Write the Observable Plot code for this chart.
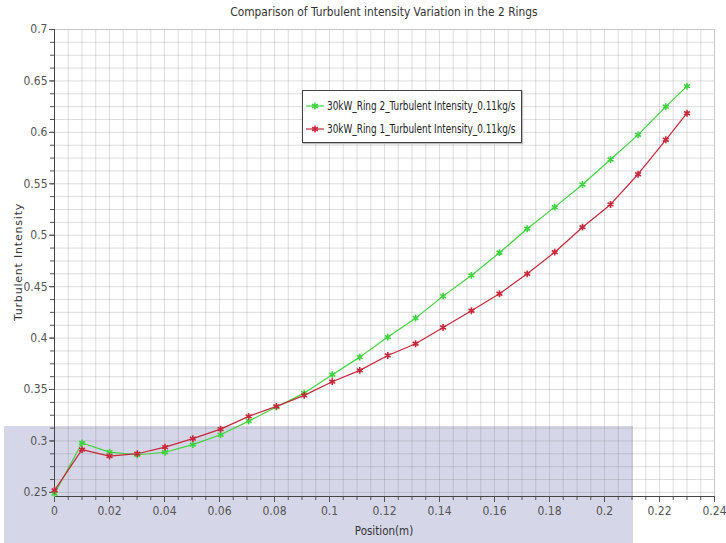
<!DOCTYPE html>
<html>
<head>
<meta charset="utf-8">
<script src="https://cdn.jsdelivr.net/npm/d3@7"></script>
<script src="https://cdn.jsdelivr.net/npm/@observablehq/plot@0.6"></script>
<style>
  body { margin: 0; background: #fff; }
  #wrap { position: relative; width: 726px; height: 543px; overflow: hidden;
          font-family: "Liberation Sans Narrow", "DejaVu Sans Condensed", "Arial Narrow", sans-serif; font-stretch: condensed; }
  #band { position: absolute; left: 4px; top: 426px; width: 629px; height: 117px; background: #d5d6e8; }
  #chart { position: absolute; left: 0; top: 0; }
  #title { position: absolute; top: 4px; left: 54px; width: 660px; text-align: center; font-size: 13px; line-height: 16px; color: #333; }
  #title span { display: inline-block; transform: scaleX(0.91); }
  #xlab { position: absolute; top: 523px; left: 54px; width: 660px; text-align: center; font-size: 11.5px; line-height: 16px; color: #333; }
  #ylab { position: absolute; left: 18px; top: 262px; transform: translate(-50%, -50%) rotate(-90deg); white-space: nowrap;
          font-family: "DejaVu Sans", sans-serif; font-stretch: normal; font-size: 11px; letter-spacing: 0.8px; color: #333; }
  #legend { position: absolute; left: 302px; top: 90px; width: 218px; height: 51px; border: 1px solid #444; background: #fff;
            box-shadow: 1px 1px 1px #bbb; }
  .row { position: absolute; left: 3px; height: 16px; display: flex; align-items: center; font-size: 11.5px; color: #222; white-space: nowrap; }
  .row svg { margin-right: 3px; flex: none; }
  .row span { display: inline-block; transform: scaleX(0.86); transform-origin: left center; }
</style>
</head>
<body>
<div id="wrap">
  <div id="band"></div>
  <div id="chart"></div>
  <div id="title"><span></span></div>
  <div id="xlab"></div>
  <div id="ylab"></div>
  <div id="legend"></div>
</div>
<script>
// ---- data ----
const chartTitle = "Comparison of Turbulent intensity Variation in the 2 Rings";
const xLabel = "Position(m)";
const yLabel = "Turbulent Intensity";
const seriesNames = ["30kW_Ring 2_Turbulent Intensity_0.11kg/s", "30kW_Ring 1_Turbulent Intensity_0.11kg/s"];
const seriesColors = ["#3ed43e", "#c8283a"];

const position = [0, 0.01, 0.02, 0.0301, 0.0402, 0.0503, 0.0604, 0.0706, 0.0807, 0.0908, 0.101, 0.111, 0.1212, 0.1313,
                  0.1413, 0.1516, 0.1618, 0.1719, 0.1819, 0.192, 0.2022, 0.2122, 0.2223, 0.23];
const ring2 = [0.2487, 0.298, 0.2892, 0.2866, 0.289, 0.2964, 0.306, 0.3193, 0.333, 0.3465, 0.3644, 0.3815, 0.401, 0.4194,
               0.4408, 0.4609, 0.483, 0.5063, 0.5273, 0.5493, 0.5736, 0.5976, 0.625, 0.6449];
const ring1 = [0.252, 0.2915, 0.2853, 0.2876, 0.294, 0.3022, 0.3115, 0.3239, 0.3336, 0.3443, 0.3576, 0.3686, 0.3831, 0.3945,
               0.4103, 0.4266, 0.4431, 0.4625, 0.4835, 0.5078, 0.5299, 0.5593, 0.5928, 0.6186];

const xTicks = [0, 0.02, 0.04, 0.06, 0.08, 0.1, 0.12, 0.14, 0.16, 0.18, 0.2, 0.22, 0.24];
const yTicks = [0.25, 0.3, 0.35, 0.4, 0.45, 0.5, 0.55, 0.6, 0.65, 0.7];
const xGrid = d3.range(0, 49).map(i => i * 0.005);
const yGrid = d3.range(0, 37).map(i => 0.25 + i * 0.0125);
const xDomain = [0, 0.24];
const yDomain = [0.246, 0.7];

// ---- build ----
const rows = position.flatMap((x, i) => [
  {x, y: ring2[i], s: seriesNames[0]},
  {x, y: ring1[i], s: seriesNames[1]}
]);

const fmt = d => String(+d.toFixed(3));

const chart = Plot.plot({
  width: 726, height: 543,
  marginLeft: 54, marginRight: 12, marginTop: 29, marginBottom: 47,
  style: {background: "transparent", fontFamily: '"Liberation Sans Narrow", "DejaVu Sans Condensed", sans-serif', fontSize: "12px", color: "#444"},
  x: {domain: xDomain, label: null},
  y: {domain: yDomain, label: null},
  color: {domain: seriesNames, range: seriesColors},
  marks: [
    Plot.gridX(xGrid, {stroke: "#7a7a7a", strokeOpacity: 0.25}),
    Plot.gridY(yGrid, {stroke: "#7a7a7a", strokeOpacity: 0.25}),
    Plot.frame({stroke: "#c8c8c8"}),
    Plot.axisX(xGrid, {tickSize: 4, tickFormat: () => "", label: null, stroke: "#555"}),
    Plot.axisY(yGrid, {tickSize: 4, tickFormat: () => "", label: null, stroke: "#555"}),
    Plot.axisX(xTicks, {tickSize: 6, tickPadding: 4, tickFormat: fmt, label: null, stroke: "#555", fill: "#555"}),
    Plot.axisY(yTicks, {tickSize: 5, tickPadding: 2, tickFormat: fmt, label: null, stroke: "#555", fill: "#555"}),
    Plot.ruleX([xDomain[0]], {stroke: "#444"}),
    Plot.ruleY([yDomain[0]], {stroke: "#444"}),
    Plot.line(rows, {x: "x", y: "y", stroke: "s", strokeWidth: 1.2, curve: "linear"}),
    Plot.dot(rows, {x: "x", y: "y", stroke: "s", symbol: "asterisk", r: 3.2, strokeWidth: 1.6})
  ]
});
document.getElementById("chart").appendChild(chart);
document.querySelector("#title span").textContent = chartTitle;
document.getElementById("xlab").textContent = xLabel;
document.getElementById("ylab").textContent = yLabel;

const legend = document.getElementById("legend");
seriesNames.forEach((name, i) => {
  const row = document.createElement("div");
  row.className = "row";
  row.style.top = (7 + i * 23) + "px";
  const c = seriesColors[i];
  row.innerHTML = `<svg width="18" height="10" viewBox="0 0 18 10">
      <line x1="0" y1="5" x2="18" y2="5" stroke="${c}" stroke-width="1.2"/>
      <path d="M9 1.5V8.5M6 3.2L12 6.8M6 6.8L12 3.2" stroke="${c}" stroke-width="1.6"/>
    </svg><span></span>`;
  row.querySelector("span").textContent = name;
  legend.appendChild(row);
});
</script>
</body>
</html>
